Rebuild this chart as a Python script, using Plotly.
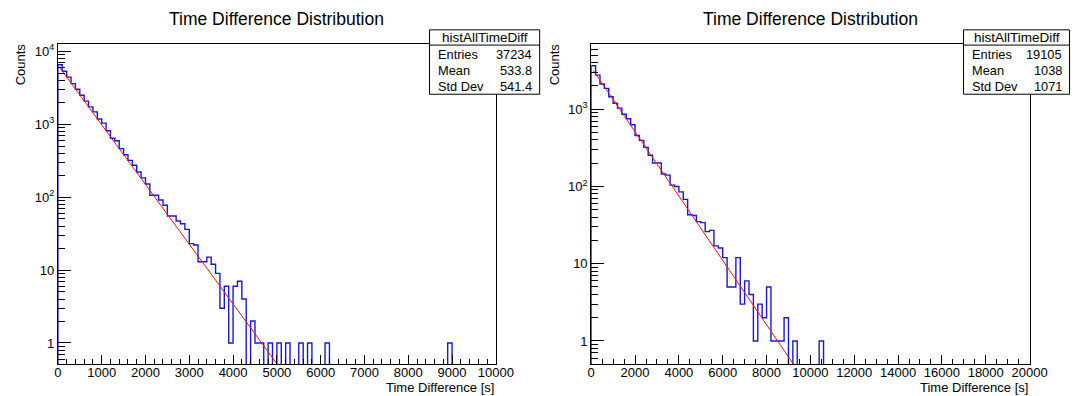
import plotly.graph_objects as go

W, H = 1090, 396

# ---------------- data ----------------
left_bin_width = 100
left_counts = [
    6500, 5300, 4400, 3580, 2990, 2480, 2060, 1720, 1470, 1170,
    1030, 810, 640, 590, 460, 380, 318, 272, 220, 183,
    151, 106, 106, 91, 77, 55, 55, 47, 43, 36,
    23, 22, 13, 13, 15, 12, 9, 3, 6, 1,
    6, 7, 4, 0, 2, 1, 1, 0, 1, 0,
    1, 0, 1, 0, 0, 1, 0, 1, 0, 0,
    0, 1, 0, 0, 0, 0, 0, 0, 0, 0,
    0, 0, 0, 0, 0, 0, 0, 0, 0, 0,
    0, 0, 0, 0, 0, 0, 0, 0, 0, 1,
    0, 0, 0, 0, 0, 0, 0, 0, 0, 0,
]
right_bin_width = 200
right_counts = [
    3640, 2760, 2120, 1860, 1450, 1190, 1030, 860, 750, 628,
    457, 394, 320, 253, 201, 201, 145, 140, 104, 100,
    85, 68, 43, 42, 35, 34, 26, 27, 17, 16,
    12, 5, 5, 12, 3, 6, 4, 1, 3, 2,
    5, 1, 1, 1, 2, 0, 1, 0, 0, 0,
    0, 0, 1, 0, 0, 0, 0, 0, 0, 0,
    0, 0, 0, 0, 0, 0, 0, 0, 0, 0,
    0, 0, 0, 0, 0, 0, 0, 0, 0, 0,
    0, 0, 0, 0, 0, 0, 0, 0, 0, 0,
    0, 0, 0, 0, 0, 0, 0, 0, 0, 0,
]
# exponential fit lines (straight on log scale): endpoints
left_fit_x = [50, 5100]
left_fit_y = [5850, 0.431]
right_fit_x = [100, 9400]
right_fit_y = [3155, 0.424]

left_xticks = [0, 1000, 2000, 3000, 4000, 5000, 6000, 7000, 8000, 9000, 10000]
right_xticks = [0, 2000, 4000, 6000, 8000, 10000, 12000, 14000, 16000, 18000, 20000]
left_yticks = [1, 10, 100, 1000, 10000]
left_yticktext = ["1", "10", "10<sup>2</sup>", "10<sup>3</sup>", "10<sup>4</sup>"]
right_yticks = [1, 10, 100, 1000]
right_yticktext = ["1", "10", "10<sup>2</sup>", "10<sup>3</sup>"]

stats_name = "histAllTimeDiff"
stats_labels = ["Entries", "Mean", "Std Dev"]
left_stats = ["37234", "533.8", "541.4"]
right_stats = ["19105", "1038", "1071"]

title_text = "Time Difference Distribution"
xtitle = "Time Difference [s]"
ytitle = "Counts"

FONT = "Liberation Sans, Arial, sans-serif"
HIST_COLOR = "#1818d0"
FIT_COLOR = "#ff1010"


def step_xy(counts, width, floor=1e-2):
    edges = [i * width for i in range(len(counts) + 1)]
    vals = [c if c > 0 else floor for c in counts]
    xs = [edges[0]] + edges[:-1] + [edges[-1]]
    ys = [floor] + vals + [floor]
    return xs, ys


def px_x(p):
    return p / W


def px_y(p):
    return 1 - p / H


fig = go.Figure()

lx, ly = step_xy(left_counts, left_bin_width)
rx, ry = step_xy(right_counts, right_bin_width)

fig.add_trace(go.Scatter(x=lx, y=ly, mode="lines", line=dict(shape="hv", color=HIST_COLOR, width=1.4),
                         xaxis="x", yaxis="y", showlegend=False, hoverinfo="skip"))
fig.add_trace(go.Scatter(x=left_fit_x, y=left_fit_y, mode="lines", line=dict(color=FIT_COLOR, width=1),
                         xaxis="x", yaxis="y", showlegend=False, hoverinfo="skip"))
fig.add_trace(go.Scatter(x=rx, y=ry, mode="lines", line=dict(shape="hv", color=HIST_COLOR, width=1.4),
                         xaxis="x2", yaxis="y2", showlegend=False, hoverinfo="skip"))
fig.add_trace(go.Scatter(x=right_fit_x, y=right_fit_y, mode="lines", line=dict(color=FIT_COLOR, width=1),
                         xaxis="x2", yaxis="y2", showlegend=False, hoverinfo="skip"))

# frame geometry (pixels)
L = dict(x0=55, x1=502)
R = dict(x0=599.3, x1=1046.7)
TOP, BOT = 42, 364.3

ydom = [px_y(BOT), px_y(TOP)]

minor_y = [m * 10 ** e for e in range(-1, 5) for m in range(2, 10)]

common_x = dict(showgrid=False, zeroline=False, showline=True, linecolor="black", linewidth=1, mirror=True,
                ticks="inside", ticklen=9, tickwidth=1, tickcolor="black", tickformat="d",
                ticklabelstandoff=-4,
                tickfont=dict(family=FONT, size=13, color="black"))
common_y = dict(type="log", showgrid=False, zeroline=False, showline=True, linecolor="black", linewidth=1,
                mirror=True, ticks="inside", ticklen=13, tickwidth=1, tickcolor="black",
                tickfont=dict(family=FONT, size=13, color="black"),
                minor=dict(tickmode="array", tickvals=minor_y, ticks="inside", ticklen=7, tickcolor="black",
                           showgrid=False))

fig.update_layout(
    width=W, height=H, margin=dict(l=0, r=0, t=0, b=0), autosize=False,
    paper_bgcolor="white", plot_bgcolor="white",
    xaxis=dict(domain=[px_x(L["x0"]), px_x(L["x1"])], range=[0, 10000], anchor="y",
               tickmode="array", tickvals=left_xticks,
               minor=dict(dtick=200, tick0=0, ticks="inside", ticklen=5, tickcolor="black", showgrid=False),
               **common_x),
    yaxis=dict(domain=ydom, range=[-0.294, 4.0995], anchor="x", tickmode="array",
               tickvals=left_yticks, ticktext=left_yticktext, **common_y),
    xaxis2=dict(domain=[px_x(R["x0"]), px_x(R["x1"])], range=[0, 20000], anchor="y2",
                tickmode="array", tickvals=right_xticks,
                minor=dict(dtick=500, tick0=0, ticks="inside", ticklen=5, tickcolor="black", showgrid=False),
                **common_x),
    yaxis2=dict(domain=ydom, range=[-0.304, 3.846], anchor="x2", tickmode="array",
                tickvals=right_yticks, ticktext=right_yticktext, **common_y),
)

annotations = []
shapes = []

for frame, vals, bx0, bx1, ylab_x in [
    (L, left_stats, 434.3, 546.7, 16.5),
    (R, right_stats, 979.3, 1087.5, 561.5),
]:
    cx = (frame["x0"] + frame["x1"]) / 2
    annotations.append(dict(text=title_text, x=px_x(cx), y=px_y(17), xref="paper", yref="paper",
                            showarrow=False, xanchor="center", yanchor="middle",
                            font=dict(family=FONT, size=17.5, color="black")))
    annotations.append(dict(text=ytitle, x=px_x(ylab_x), y=px_y(62.5), xref="paper", yref="paper",
                            showarrow=False, textangle=-90, xanchor="center", yanchor="middle",
                            font=dict(family=FONT, size=13, color="black")))
    annotations.append(dict(text=xtitle, x=px_x(frame["x1"]), y=px_y(387), xref="paper", yref="paper",
                            showarrow=False, xanchor="right", yanchor="middle",
                            font=dict(family=FONT, size=13, color="black")))
    # stats box
    shapes.append(dict(type="rect", xref="paper", yref="paper", x0=px_x(bx0), x1=px_x(bx1),
                       y0=px_y(92.7), y1=px_y(28), line=dict(color="black", width=1), fillcolor="white",
                       layer="above"))
    shapes.append(dict(type="line", xref="paper", yref="paper", x0=px_x(bx0), x1=px_x(bx1),
                       y0=px_y(43.3), y1=px_y(43.3), line=dict(color="black", width=1), layer="above"))
    annotations.append(dict(text=stats_name, x=px_x((bx0 + bx1) / 2), y=px_y(36), xref="paper", yref="paper",
                            showarrow=False, xanchor="center", yanchor="middle",
                            font=dict(family=FONT, size=13.5, color="black")))
    for i, (lab, v) in enumerate(zip(stats_labels, vals)):
        yy = [52.7, 69, 85.3][i]
        annotations.append(dict(text=lab, x=px_x(bx0 + 6.3), y=px_y(yy), xref="paper", yref="paper",
                                showarrow=False, xanchor="left", yanchor="middle",
                                font=dict(family=FONT, size=12.8, color="black")))
        annotations.append(dict(text=v, x=px_x(bx1 - 6), y=px_y(yy), xref="paper", yref="paper",
                                showarrow=False, xanchor="right", yanchor="middle",
                                font=dict(family=FONT, size=12.8, color="black")))

fig.update_layout(annotations=annotations, shapes=shapes)

fig.write_html("out.html")
